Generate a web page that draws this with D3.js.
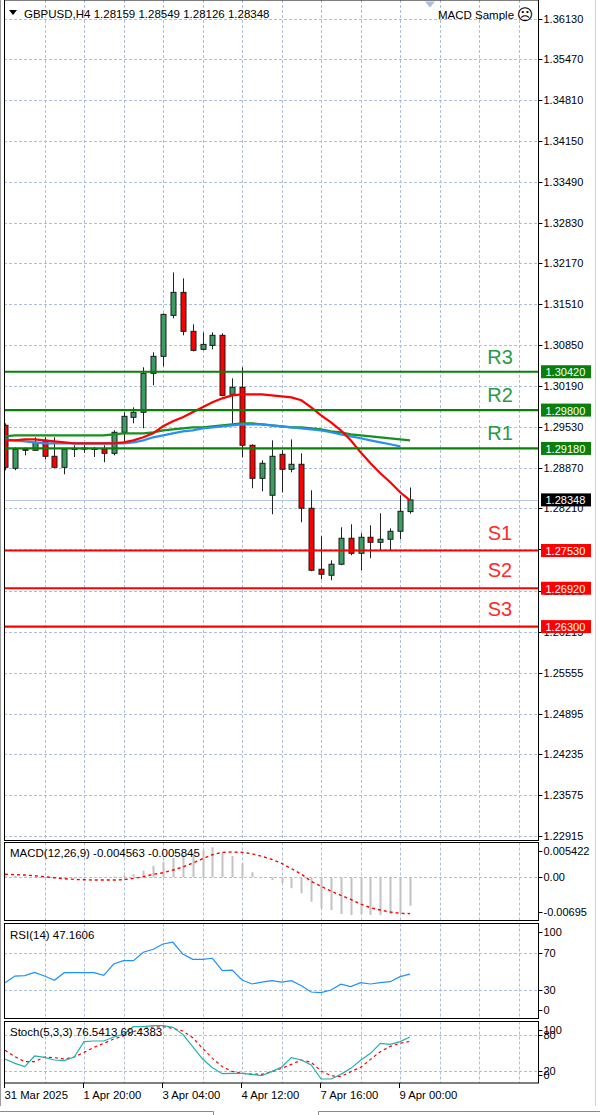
<!DOCTYPE html>
<html><head><meta charset="utf-8">
<script src="https://cdn.jsdelivr.net/npm/d3@7"></script>
<style>html,body{margin:0;padding:0;background:#fff;} svg{display:block;font-family:"Liberation Sans",Arial,sans-serif;}</style>
</head><body><svg id="c" width="600" height="1115"></svg>
<script>
// ---------------- data ----------------
const headerText = "GBPUSD,H4  1.28159 1.28549 1.28126 1.28348";
const expertText = "MACD Sample";
const macdTitle = "MACD(12,26,9) -0.004563 -0.005845";
const rsiTitle = "RSI(14) 47.1606";
const stochTitle = "Stoch(5,3,3) 76.5413 69.4383";

const open  = [1.29554,1.28859,1.29166,1.29150,1.29311,1.29053,1.28875,1.29170,1.29175,1.29180,1.29166,1.29101,1.29441,1.29683,1.29764,1.30394,1.30669,1.31331,1.31703,1.31073,1.30782,1.30846,1.31008,1.30055,1.30168,1.29231,1.28697,1.28423,1.29085,1.28843,1.28924,1.28213,1.27227,1.27130,1.27308,1.27728,1.27485,1.27744,1.27663,1.27712,1.27841,1.28159];
const high  = [1.29586,1.29198,1.29198,1.29360,1.29360,1.29360,1.29182,1.29231,1.29231,1.29204,1.29231,1.29473,1.29764,1.29845,1.30491,1.30733,1.31363,1.32026,1.31929,1.31186,1.31056,1.31056,1.31040,1.30313,1.30491,1.29247,1.28988,1.29311,1.29150,1.29327,1.29101,1.28503,1.27760,1.27372,1.27906,1.27954,1.27809,1.27938,1.28132,1.27889,1.28423,1.28549];
const low   = [1.28827,1.28827,1.29069,1.29150,1.29004,1.28859,1.28762,1.29042,1.29110,1.29042,1.28956,1.29069,1.29279,1.29586,1.29505,1.30200,1.30507,1.31283,1.31008,1.30749,1.30766,1.30782,1.30022,1.29586,1.29037,1.28536,1.28487,1.28116,1.28471,1.28794,1.27986,1.27195,1.27065,1.27049,1.27292,1.27453,1.27211,1.27405,1.27534,1.27534,1.27712,1.28126];
const close = [1.28875,1.29166,1.29150,1.29279,1.29053,1.28875,1.29166,1.29180,1.29185,1.29165,1.29101,1.29441,1.29699,1.29764,1.30394,1.30669,1.31347,1.31703,1.31073,1.30766,1.30862,1.31008,1.30038,1.30168,1.29231,1.28697,1.28940,1.29053,1.28843,1.28924,1.28213,1.27211,1.27146,1.27308,1.27728,1.27485,1.27744,1.27663,1.27712,1.27841,1.28164,1.28348];

const maRed   = [1.29311,1.29311,1.29327,1.29327,1.29311,1.29295,1.29279,1.29263,1.29263,1.29263,1.29263,1.29263,1.29279,1.29311,1.29360,1.29424,1.29538,1.29618,1.29683,1.29764,1.29845,1.29925,1.29990,1.30038,1.30055,1.30055,1.30055,1.30038,1.30022,1.30006,1.29958,1.29845,1.29715,1.29602,1.29473,1.29311,1.29117,1.28940,1.28778,1.28633,1.28471,1.28342];
const maGreen = [1.29376,1.29392,1.29392,1.29392,1.29392,1.29392,1.29392,1.29392,1.29392,1.29392,1.29392,1.29408,1.29424,1.29424,1.29424,1.29441,1.29473,1.29489,1.29505,1.29521,1.29521,1.29538,1.29554,1.29570,1.29586,1.29586,1.29570,1.29554,1.29538,1.29521,1.29521,1.29505,1.29489,1.29457,1.29441,1.29408,1.29392,1.29376,1.29360,1.29344,1.29327,1.29311];
const maBlue  = [1.29327,1.29311,1.29295,1.29279,1.29263,1.29263,1.29263,1.29263,1.29263,1.29263,1.29263,1.29263,1.29263,1.29279,1.29311,1.29360,1.29392,1.29424,1.29457,1.29473,1.29505,1.29521,1.29538,1.29554,1.29570,1.29570,1.29570,1.29554,1.29538,1.29521,1.29505,1.29489,1.29473,1.29441,1.29408,1.29376,1.29344,1.29311,1.29279,1.29247,1.29214];

const levelNames  = ["R3","R2","R1","S1","S2","S3"];
const levelValues = [1.30420,1.29800,1.29180,1.27530,1.26920,1.26300];
const bidPrice = 1.28348;

const priceTicks = [1.36130,1.35470,1.34810,1.34150,1.33490,1.32830,1.32170,1.31510,1.30850,1.30190,1.29530,1.28870,1.28210,1.27550,1.26880,1.26215,1.25555,1.24895,1.24235,1.23575,1.22915];

const macdHist = [0.0003,0.0002,0.0001,0.0000,-0.0001,-0.0002,-0.0002,-0.0002,-0.0002,-0.0001,-0.0001,0.0001,0.0003,0.00047,0.00104,0.00185,0.0025,0.0031,0.00357,0.00384,0.00437,0.00480,0.00394,0.00341,0.00223,0.00079,0.00005,-0.00045,-0.00098,-0.00178,-0.00259,-0.00394,-0.00500,-0.00527,-0.00591,-0.00607,-0.00591,-0.00607,-0.00607,-0.00591,-0.00580,-0.004563];
const macdSignal = [0.00047,0.00042,0.00035,0.00024,0.00008,-0.00008,-0.00024,-0.00034,-0.00040,-0.00045,-0.00045,-0.00045,-0.00040,-0.00018,0.00008,0.00047,0.00072,0.00116,0.00164,0.00228,0.00297,0.00362,0.00400,0.00405,0.00400,0.00378,0.00336,0.00288,0.00223,0.00137,0.00051,-0.00066,-0.00146,-0.00222,-0.00291,-0.00355,-0.00431,-0.00490,-0.00527,-0.00559,-0.00580,-0.005845];
const macdTicks = [0.005422, 0.00, -0.00695];
const macdTickLabels = ["0.005422","0.00","-0.00695"];

const rsi = [37.9,45.1,45.5,49.1,45.1,40.5,48.7,48.7,48.7,48.7,45.9,58.1,61.7,61.7,70.8,74.0,79.7,81.6,68.9,63.2,63.2,64.3,50.9,51.5,40.8,36.5,38.6,40.1,38.6,40.1,34.6,27.8,27.1,30.0,36.2,33.6,37.9,36.5,37.9,39.0,44.4,47.16];
const rsiTicks = [100,70,30,0];
const rsiLevels = [70,30];

const stochMain = [40,32.8,27.2,45,42.8,38.3,37.2,43.3,68.9,70,70,76.7,81.1,93.9,93.9,95.6,95.6,92.8,81.1,60.6,40,25.6,15.6,16.1,16.1,14.4,12.2,18.9,26.7,42.2,38.3,30,6.7,6.7,14.4,24.4,37.8,49.4,66.1,64.4,68.9,76.54];
const stochSignal = [54.4,43.9,35.6,35.6,43.3,42.2,40,43.3,51.1,59.4,66.1,73.3,78.3,85.6,90.6,93.3,93.9,91.1,86.7,75.6,57.8,41.1,27.2,19.4,16.1,15,14.4,18.9,24.4,31.1,38.3,34.4,20,12.2,10.6,18.9,26.1,39.4,52.2,61.1,66.1,69.44];
const stochTicks = [100,80,20,0];
const stochLevels = [80,20];

const dateLabels = ["31 Mar 2025","1 Apr 20:00","3 Apr 04:00","4 Apr 12:00","7 Apr 16:00","9 Apr 00:00"];
const dateBars = [0,8,16,24,32,40];

// ---------------- layout ----------------
const L = 4, R = 538.5;
const panels = {
  main:  {top: 0,     bottom: 840.5},
  macd:  {top: 842.5, bottom: 920.5},
  rsi:   {top: 923.5, bottom: 1018.5},
  stoch: {top: 1021.5,bottom: 1083}
};
const GRID = "#aebfdc";
const svg = d3.select("#c");

const x = d3.scaleLinear().domain([0, 41]).range([5, 410]);
const yMain = d3.scaleLinear().domain([1.22915, 1.36130]).range([836, 18.5]);
const yMacd = d3.scaleLinear().domain([-0.00695, 0.005422]).range([920.5, 843.5]);
const yRsi = d3.scaleLinear().domain([0, 100]).range([1017.75, 925.25]);
const yStoch = d3.scaleLinear().domain([0, 100]).range([1083, 1023]);
const gridBars = d3.range(4, 53, 4);

// outer window lines
svg.append("line").attr("x1",0.5).attr("x2",0.5).attr("y1",0).attr("y2",1106).attr("stroke","#9a9a9a");
svg.append("line").attr("x1",595.5).attr("x2",595.5).attr("y1",0).attr("y2",1106).attr("stroke","#d0d0d0");
svg.append("path").attr("d","M0,1111.5H213.5V1115").attr("fill","none").attr("stroke","#8a8a8a");
svg.append("path").attr("d","M318.5,1115V1111.5H600").attr("fill","none").attr("stroke","#8a8a8a");

svg.append("defs").selectAll("clipPath").data(Object.entries(panels)).join("clipPath")
  .attr("id", d => "clip-" + d[0])
  .append("rect").attr("x", L).attr("y", d => d[1].top).attr("width", R - L).attr("height", d => d[1].bottom - d[1].top);

function vgrid(g, p) {
  g.selectAll("line.vg").data(gridBars).join("line").attr("class","vg")
    .attr("x1", d => Math.round(x(d)) + 0.5).attr("x2", d => Math.round(x(d)) + 0.5)
    .attr("y1", p.top).attr("y2", p.bottom)
    .attr("stroke", GRID).attr("stroke-dasharray", "3,2");
}
function hgrid(g, ys) {
  g.selectAll("line.hg").data(ys).join("line").attr("class","hg")
    .attr("x1", L).attr("x2", R)
    .attr("y1", d => Math.round(d) + 0.5).attr("y2", d => Math.round(d) + 0.5)
    .attr("stroke", GRID).attr("stroke-dasharray", "3,2");
}
function frame(p) {
  svg.append("rect").attr("x", L + 0.5).attr("y", p.top).attr("width", R - L - 0.5).attr("height", p.bottom - p.top)
    .attr("fill", "none").attr("stroke", "#000").attr("stroke-width", 1);
}
function axisLabels(vals, labels, yfn, p) {
  const g = svg.append("g").attr("font-size", "11px").attr("fill", "#000");
  vals.forEach((v, i) => {
    const yy = yfn(v);
    const ly = Math.max(p.top + 8.5, Math.min(p.bottom - 8.5, yy));
    g.append("line").attr("x1", R).attr("x2", R + 4).attr("y1", Math.round(ly) + 0.5).attr("y2", Math.round(ly) + 0.5).attr("stroke", "#000");
    g.append("text").attr("x", 543.5).attr("y", ly).attr("dominant-baseline", "central").text(labels[i]);
  });
}

// ---------------- main panel ----------------
const pm = panels.main;
const gm = svg.append("g").attr("clip-path", "url(#clip-main)");
hgrid(gm, priceTicks.map(yMain));
vgrid(gm, pm);
// bid line
gm.append("line").attr("x1", L).attr("x2", R).attr("y1", Math.round(yMain(bidPrice)) + 0.5).attr("y2", Math.round(yMain(bidPrice)) + 0.5)
  .attr("stroke", "#b4c6e2").attr("stroke-width", 1);

// candles
const idx = d3.range(open.length);
gm.selectAll("line.wick").data(idx).join("line").attr("class","wick")
  .attr("x1", i => Math.round(x(i)) + 0.5).attr("x2", i => Math.round(x(i)) + 0.5)
  .attr("y1", i => yMain(high[i])).attr("y2", i => yMain(low[i]))
  .attr("stroke", "#222").attr("stroke-width", 1);
gm.selectAll("rect.body").data(idx).join("rect").attr("class","body")
  .attr("x", i => Math.round(x(i)) - 2)
  .attr("y", i => Math.min(yMain(open[i]), yMain(close[i])))
  .attr("width", 5)
  .attr("height", i => Math.max(1, Math.abs(yMain(open[i]) - yMain(close[i]))))
  .attr("fill", i => close[i] >= open[i] ? "#3a9e62" : "#ff0000")
  .attr("stroke", "#1a1a1a").attr("stroke-width", 1);

// moving averages
const lineGen = (ys) => d3.line().x((d, i) => x(i)).y(d => ys(d));
gm.append("path").datum(maGreen).attr("d", lineGen(yMain)).attr("fill","none").attr("stroke","#16901e").attr("stroke-width",2.2);
gm.append("path").datum(maBlue).attr("d", lineGen(yMain)).attr("fill","none").attr("stroke","#2a8ff2").attr("stroke-width",2.2);
gm.append("path").datum(maRed).attr("d", lineGen(yMain)).attr("fill","none").attr("stroke","#ff0000").attr("stroke-width",2.2);

// levels
levelValues.forEach((v, i) => {
  const isR = levelNames[i][0] === "R";
  const col = isR ? "#0a800a" : "#ff0000";
  const yy = yMain(v);
  gm.append("line").attr("x1", L).attr("x2", R).attr("y1", yy).attr("y2", yy).attr("stroke", col).attr("stroke-width", 2.2);
  gm.append("text").attr("x", 500).attr("y", yy - (isR ? 8 : 11)).attr("text-anchor","middle")
    .attr("font-size","20px").attr("fill", isR ? "#2a9a44" : "#ff2a2a").text(levelNames[i]);
});

frame(pm);
axisLabels(priceTicks, priceTicks.map(d3.format(".5f")), yMain, {top: -100, bottom: 2000});

// level boxes
const fmt5 = d3.format(".5f");
function priceBox(v, bg) {
  const yy = yMain(v);
  svg.append("rect").attr("x", 541).attr("y", yy - 6.5).attr("width", 50).attr("height", 13).attr("fill", bg);
  svg.append("text").attr("x", 545.5).attr("y", yy + 0.5).attr("dominant-baseline","central").attr("font-size","11px").attr("fill","#fff").text(fmt5(v));
}
levelValues.forEach((v, i) => priceBox(v, levelNames[i][0] === "R" ? "#0a800a" : "#ff0000"));
priceBox(bidPrice, "#000");

// header
svg.append("path").attr("d","M9,10L17,10L13,15Z").attr("fill","#000");
svg.append("text").attr("x", 24).attr("y", 17.5).attr("font-size","11.5px").attr("fill","#000").text(headerText);
svg.append("path").attr("d","M425,1.5L435,1.5L430,7.5Z").attr("fill","#a9bfdc");
svg.append("text").attr("x", 438).attr("y", 18.5).attr("font-size","11.5px").attr("fill","#000").text(expertText);
svg.append("text").attr("x", 525).attr("y", 19.5).attr("text-anchor","middle").attr("font-size","16px")
  .attr("font-family","DejaVu Sans").attr("fill","#000").text("\u2639");

// ---------------- MACD ----------------
const pmac = panels.macd;
const gmac = svg.append("g").attr("clip-path","url(#clip-macd)");
vgrid(gmac, pmac);
hgrid(gmac, [yMacd(0)]);
gmac.selectAll("line.hist").data(idx.filter(i => Math.abs(macdHist[i]) > 0.00003)).join("line").attr("class","hist")
  .attr("x1", i => Math.round(x(i)) + 0.5).attr("x2", i => Math.round(x(i)) + 0.5)
  .attr("y1", yMacd(0)).attr("y2", i => yMacd(macdHist[i]))
  .attr("stroke", "#c2c2c2").attr("stroke-width", 2);
gmac.append("path").datum(macdSignal).attr("d", lineGen(yMacd)).attr("fill","none")
  .attr("stroke","#ff0000").attr("stroke-width",1.4).attr("stroke-dasharray","3,3");
frame(pmac);
axisLabels(macdTicks, macdTickLabels, yMacd, pmac);
svg.append("text").attr("x", 10).attr("y", 857).attr("font-size","11.5px").attr("fill","#000").text(macdTitle);

// ---------------- RSI ----------------
const pr = panels.rsi;
const gr = svg.append("g").attr("clip-path","url(#clip-rsi)");
vgrid(gr, pr);
hgrid(gr, rsiLevels.map(yRsi));
gr.append("path").datum(rsi).attr("d", lineGen(yRsi)).attr("fill","none").attr("stroke","#1e90ff").attr("stroke-width",1.2);
frame(pr);
axisLabels(rsiTicks, rsiTicks.map(String), yRsi, pr);
svg.append("text").attr("x", 10).attr("y", 939).attr("font-size","11.5px").attr("fill","#000").text(rsiTitle);

// ---------------- Stoch ----------------
const ps = panels.stoch;
const gs = svg.append("g").attr("clip-path","url(#clip-stoch)");
vgrid(gs, ps);
hgrid(gs, stochLevels.map(yStoch));
gs.append("path").datum(stochSignal).attr("d", lineGen(yStoch)).attr("fill","none").attr("stroke","#ff0000").attr("stroke-width",1.2).attr("stroke-dasharray","3,3");
gs.append("path").datum(stochMain).attr("d", lineGen(yStoch)).attr("fill","none").attr("stroke","#20b2aa").attr("stroke-width",1.2);
frame(ps);
axisLabels(stochTicks, stochTicks.map(String), yStoch, ps);
svg.append("text").attr("x", 10).attr("y", 1036).attr("font-size","11.5px").attr("fill","#000").text(stochTitle);

// ---------------- time axis ----------------
const gt = svg.append("g");
dateBars.forEach((b, i) => {
  const xx = Math.round(x(b)) - 0.5;
  gt.append("line").attr("x1", xx).attr("x2", xx).attr("y1", ps.bottom).attr("y2", ps.bottom + 5).attr("stroke","#000");
  gt.append("text").attr("x", xx).attr("y", 1094.5).attr("dominant-baseline","central").attr("font-size","11.3px").attr("fill","#000").text(dateLabels[i]);
});
</script></body></html>
